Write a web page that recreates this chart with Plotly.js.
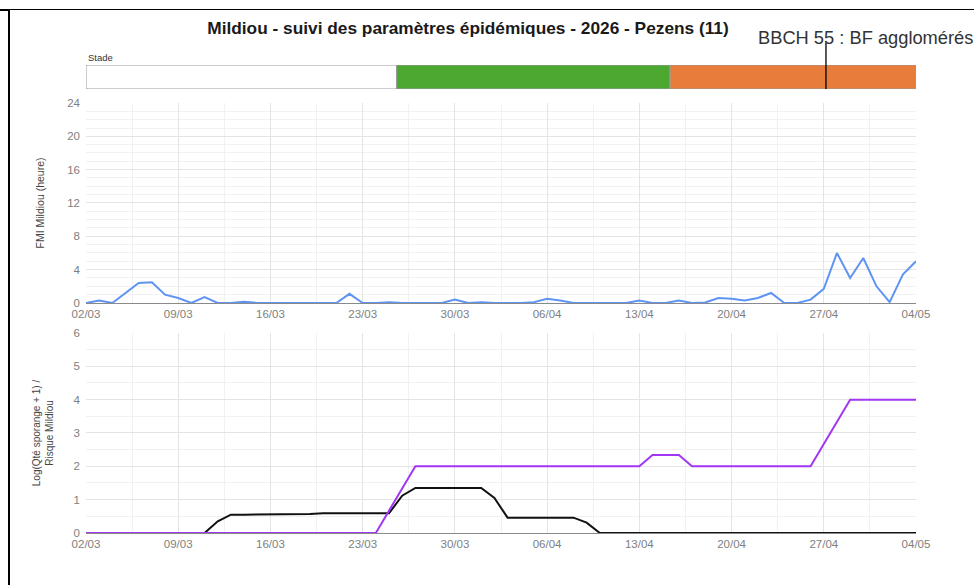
<!DOCTYPE html>
<html>
<head>
<meta charset="utf-8">
<script src="https://cdn.plot.ly/plotly-3.0.1.min.js"></script>
<style>
  html, body { margin: 0; padding: 0; background: #fff; }
  #wrap { position: relative; width: 974px; height: 585px; }
  #chart { position: absolute; left: 0; top: 0; width: 974px; height: 585px; }
  #frame { position: absolute; left: 8px; top: 9px; width: 966px; height: 576px;
           border-top: 1px solid #000; border-left: 2px solid #000; box-sizing: border-box; pointer-events: none; }
  #corner { position: absolute; left: 0; top: 9px; width: 10px; height: 2px; background: #000; }
</style>
</head>
<body>
<div id="wrap">
  <div id="chart"></div>
  <div id="frame"></div>
  <div id="corner"></div>
</div>
<script>
// ---- Data ----
const dates = [
  '2026-03-02','2026-03-03','2026-03-04','2026-03-05','2026-03-06','2026-03-07','2026-03-08','2026-03-09','2026-03-10','2026-03-11',
  '2026-03-12','2026-03-13','2026-03-14','2026-03-15','2026-03-16','2026-03-17','2026-03-18','2026-03-19','2026-03-20','2026-03-21',
  '2026-03-22','2026-03-23','2026-03-24','2026-03-25','2026-03-26','2026-03-27','2026-03-28','2026-03-29','2026-03-30','2026-03-31',
  '2026-04-01','2026-04-02','2026-04-03','2026-04-04','2026-04-05','2026-04-06','2026-04-07','2026-04-08','2026-04-09','2026-04-10',
  '2026-04-11','2026-04-12','2026-04-13','2026-04-14','2026-04-15','2026-04-16','2026-04-17','2026-04-18','2026-04-19','2026-04-20',
  '2026-04-21','2026-04-22','2026-04-23','2026-04-24','2026-04-25','2026-04-26','2026-04-27','2026-04-28','2026-04-29','2026-04-30',
  '2026-05-01','2026-05-02','2026-05-03','2026-05-04'
];

// FMI Mildiou (heure)
const fmi = [
  0, 0.3, 0, 1.2, 2.4, 2.5, 1.0, 0.6, 0, 0.7,
  0, 0, 0.15, 0, 0, 0, 0, 0, 0, 0,
  1.1, 0, 0, 0.1, 0, 0, 0, 0, 0.4, 0,
  0.1, 0, 0, 0, 0.1, 0.5, 0.3, 0, 0, 0,
  0, 0, 0.3, 0, 0, 0.3, 0, 0.05, 0.6, 0.5,
  0.3, 0.6, 1.2, 0, 0, 0.4, 1.7, 6.0, 3.0, 5.4,
  2.0, 0.1, 3.4, 5.0
];

// Log(Qté sporange + 1)
const sporange = [
  0, 0, 0, 0, 0, 0, 0, 0, 0, 0,
  0.35, 0.55, 0.55, 0.55, 0.55, 0.55, 0.55, 0.57, 0.59, 0.59,
  0.59, 0.59, 0.59, 0.59, 1.12, 1.35, 1.35, 1.35, 1.35, 1.35,
  1.35, 1.05, 0.46, 0.46, 0.46, 0.46, 0.46, 0.46, 0.31, 0,
  0, 0, 0, 0, 0, 0, 0, 0, 0, 0,
  0, 0, 0, 0, 0, 0, 0, 0, 0, 0,
  0, 0, 0, 0
];

// Risque Mildiou
const risque = [
  0, 0, 0, 0, 0, 0, 0, 0, 0, 0,
  0, 0, 0, 0, 0, 0, 0, 0, 0, 0,
  0, 0, 0, 0.67, 1.33, 2, 2, 2, 2, 2,
  2, 2, 2, 2, 2, 2, 2, 2, 2, 2,
  2, 2, 2, 2.34, 2.34, 2.34, 2, 2, 2, 2,
  2, 2, 2, 2, 2, 2, 2.67, 3.33, 4, 4,
  4, 4, 4, 4
];

// Stades phénologiques
const stageStart = ['2026-03-02 00:00', '2026-03-25 14:00', '2026-04-15 08:00'];
const stageEnd   = ['2026-03-25 14:00', '2026-04-15 08:00', '2026-05-04 00:00'];
const stageMarkerDate = '2026-04-27 04:00';
const stageMarkerLabel = 'BBCH 55 : BF agglomérés';

const titleText = 'Mildiou - suivi des paramètres épidémiques - 2026 - Pezens (11)';
const xTickFormat = '%d/%m';
const xRange = ['2026-03-02', '2026-05-04'];

// ---- Styles ----
const stageColors = ['#ffffff', '#4da832', '#e87c3a'];
const DAY = 86400000;
const FONT = 'Arial, "Liberation Sans", sans-serif';
const TICK = 11.5;

const stageDur = stageStart.map((s, i) => new Date(stageEnd[i].replace(' ', 'T') + 'Z') - new Date(s.replace(' ', 'T') + 'Z'));

const traces = [
  {
    type: 'bar', orientation: 'h',
    y: stageStart.map(() => 0), base: stageStart, x: stageDur,
    width: 1,
    marker: { color: stageColors, line: { color: '#9a9a9a', width: 1 } },
    xaxis: 'x3', yaxis: 'y3', hoverinfo: 'skip'
  },
  {
    type: 'scatter', mode: 'lines', x: dates, y: fmi,
    line: { color: '#5f94f2', width: 2 },
    xaxis: 'x2', yaxis: 'y2', name: 'FMI'
  },
  {
    type: 'scatter', mode: 'lines', x: dates, y: sporange,
    line: { color: '#111111', width: 2 },
    xaxis: 'x', yaxis: 'y', name: 'Sporange'
  },
  {
    type: 'scatter', mode: 'lines', x: dates, y: risque,
    line: { color: '#a236f2', width: 2 },
    xaxis: 'x', yaxis: 'y', name: 'Risque'
  }
];

const xCommon = {
  type: 'date', range: xRange, tick0: '2026-03-02', dtick: 7 * DAY,
  tickformat: xTickFormat, showgrid: true, gridcolor: '#e4e4e4', gridwidth: 1,
  minor: { dtick: 3.5 * DAY, tick0: '2026-03-02', showgrid: true, gridcolor: '#f1f1f1', gridwidth: 1 },
  zeroline: false, showline: true, linecolor: '#8a8a8a', linewidth: 1,
  ticks: '', tickfont: { size: TICK, color: '#808080', family: FONT }, fixedrange: true
};

const layout = {
  width: 974, height: 585,
  margin: { l: 86, r: 58, t: 65, b: 52 },
  paper_bgcolor: '#ffffff', plot_bgcolor: '#ffffff',
  showlegend: false,
  font: { family: FONT, size: 10, color: '#808080' },
  title: {
    text: '<b>' + titleText + '</b>',
    font: { size: 17.3, color: '#1a1a1a', family: FONT },
    xref: 'container', yref: 'container', x: 0.4805, y: 0.953, xanchor: 'center', yanchor: 'middle'
  },
  xaxis: Object.assign({}, xCommon, { anchor: 'y', domain: [0, 1] }),
  xaxis2: Object.assign({}, xCommon, { anchor: 'y2', domain: [0, 1] }),
  xaxis3: { type: 'date', range: xRange, anchor: 'y3', domain: [0, 1], visible: false, fixedrange: true },
  yaxis: {
    domain: [0, 0.4274], range: [0, 6], dtick: 1,
    showgrid: true, gridcolor: '#e4e4e4',
    minor: { dtick: 0.5, showgrid: true, gridcolor: '#f1f1f1' },
    zeroline: false, showline: false, ticks: '', ticklabelstandoff: 5,
    tickfont: { size: TICK, color: '#808080' },
    title: { text: 'Log(Qté sporange + 1) /<br>Risque Mildiou', font: { size: 10, color: '#444' }, standoff: 18 },
    fixedrange: true
  },
  yaxis2: {
    domain: [0.4915, 0.9188], range: [0, 24], dtick: 4,
    showgrid: true, gridcolor: '#e4e4e4',
    minor: { dtick: 1, showgrid: true, gridcolor: '#f1f1f1' },
    zeroline: false, showline: false, ticks: '', ticklabelstandoff: 5,
    tickfont: { size: TICK, color: '#808080' },
    title: { text: 'FMI Mildiou (heure)', font: { size: 10.5, color: '#444' }, standoff: 20 },
    fixedrange: true
  },
  yaxis3: { domain: [0.9487, 1], range: [-0.5, 0.5], visible: false, fixedrange: true },
  shapes: [
    {
      type: 'line', xref: 'x3', yref: 'paper',
      x0: stageMarkerDate, x1: stageMarkerDate, y0: 0.9487, y1: 1.048,
      line: { color: '#000', width: 1.3 }
    }
  ],
  annotations: [
    {
      text: 'Stade', xref: 'paper', yref: 'paper', x: 0, y: 1.017,
      xanchor: 'left', yanchor: 'middle', showarrow: false,
      font: { size: 9.5, color: '#333' }
    },
    {
      text: stageMarkerLabel, xref: 'paper', yref: 'paper', x: 0.9386, y: 1.0598,
      xanchor: 'center', yanchor: 'middle', showarrow: false,
      font: { size: 18.3, color: '#333' }
    }
  ]
};

Plotly.newPlot('chart', traces, layout, { displayModeBar: false, staticPlot: true });
</script>
</body>
</html>
